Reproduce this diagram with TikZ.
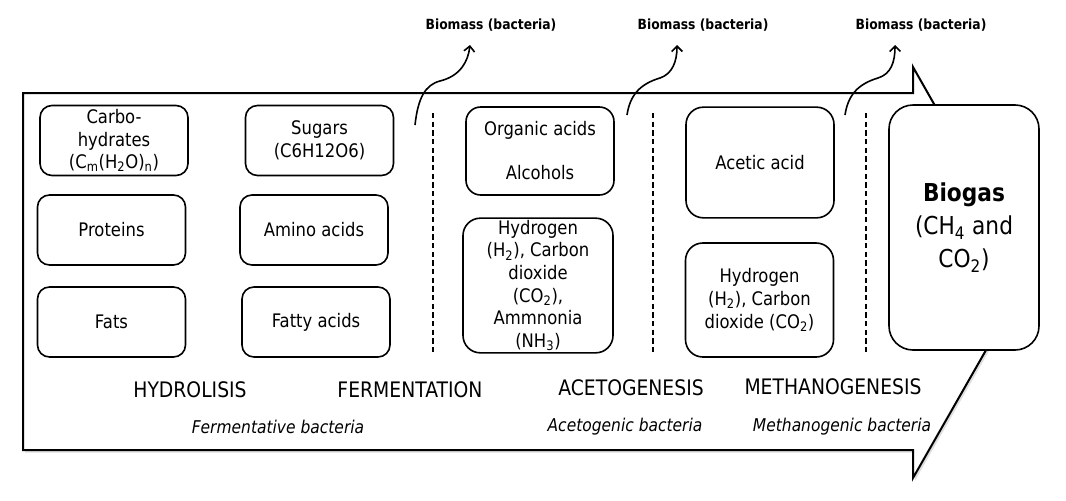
\documentclass[tikz,border=0pt]{standalone}
\usepackage{fontspec}
\setmainfont{DejaVu Sans}[FakeStretch=0.88]
\usetikzlibrary{arrows.meta,shadows}

\tikzset{
  stagebox/.style={draw, line width=1.2pt, rounded corners=9pt, fill=white, align=center,
    inner sep=0pt, minimum width=111pt, minimum height=52.5pt, font=\fontsize{14}{17}\selectfont},
  phase/.style={font=\fontsize{16}{18}\selectfont},
  microbes/.style={font=\fontsize{13.2}{15}\selectfont\itshape},
  biomass/.style={font=\fontsize{10.5}{12}\selectfont\bfseries},
  wave/.style={line width=1.2pt, -{Straight Barb[length=4pt,width=8pt]}},
  phasesep/.style={line width=1pt, dash pattern=on 4pt off 2.5pt},
}

\begin{document}
\begin{tikzpicture}[x=0.75pt, y=-0.75pt]
  \useasboundingbox (0,0) rectangle (1066,500);

  \draw[line width=1.5pt, fill=white, drop shadow={opacity=0.25, shadow xshift=1.5pt, shadow yshift=-2pt}]
    (23,93) -- (913,93) -- (913,67) -- (1030,273) -- (913,478) -- (913,450) -- (23,450) -- cycle;

  \node[stagebox] (carbs) at (114,140.5) {Carbo-\\hydrates\\(C\textsubscript{m}(H\textsubscript{2}O)\textsubscript{n})};
  \node[stagebox] (proteins) at (111.5,230) {Proteins};
  \node[stagebox] (fats) at (111.5,322) {Fats};
  \node[stagebox] (sugars) at (319.5,140.5) {Sugars\\(C6H12O6)};
  \node[stagebox] (amino) at (314,230) {Amino acids};
  \node[stagebox] (fatty) at (316,322) {Fatty acids};
  \node[stagebox, rounded corners=11pt, minimum height=66pt] (organic) at (540,151) {Organic acids\\[16pt]Alcohols};
  \node[stagebox, rounded corners=13pt, minimum width=112.5pt, minimum height=101pt] (hydro1) at (538,285.5)
    {Hydrogen\\(H\textsubscript{2}), Carbon\\dioxide\\(CO\textsubscript{2}),\\Ammnonia\\(NH\textsubscript{3})};
  \node[stagebox, rounded corners=13pt, minimum height=83pt] (acetic) at (760,162.5) {Acetic acid};
  \node[stagebox, rounded corners=13pt, minimum height=85.5pt] (hydro2) at (759.5,300)
    {Hydrogen\\(H\textsubscript{2}), Carbon\\dioxide (CO\textsubscript{2})};
  \node[stagebox, rounded corners=18pt, minimum width=112.5pt, minimum height=183.75pt,
    font=\fontsize{18.5}{25}\selectfont] (biogas) at (964,227.5)
    {\textbf{Biogas}\\(CH\textsubscript{4} and\\CO\textsubscript{2})};

  \draw[phasesep] (433,113) -- (433,355);
  \draw[phasesep] (653,113) -- (653,355);
  \draw[phasesep] (866,113) -- (866,355);

  \node[phase] (hydrolisis) at (190,390) {HYDROLISIS};
  \node[phase] (fermentation) at (410,390) {FERMENTATION};
  \node[phase] (acetogenesis) at (631,388) {ACETOGENESIS};
  \node[phase] (methanogenesis) at (833,387) {METHANOGENESIS};
  \node[microbes] (fermbact) at (278,427) {Fermentative bacteria};
  \node[microbes] (acetbact) at (625,427) {Acetogenic bacteria};
  \node[microbes] (methbact) at (842,427) {Methanogenic bacteria};

  \node[biomass] (biomass1) at (491,25) {Biomass (bacteria)};
  \node[biomass] (biomass2) at (703,25) {Biomass (bacteria)};
  \node[biomass] (biomass3) at (921,25) {Biomass (bacteria)};

  \coordinate (w1) at (415,125);
  \coordinate (t1) at (470,45);
  \coordinate (w2) at (627,115);
  \coordinate (t2) at (677,45);
  \coordinate (w3) at (845,115);
  \coordinate (t3) at (895,45);
  \draw[wave] (w1) .. controls (418,98) and (425,85) .. (440,81) .. controls (460,76) and (468,62) .. (t1);
  \draw[wave] (w2) .. controls (630,95) and (640,84) .. (660,78) .. controls (672,74) and (677,62) .. (t2);
  \draw[wave] (w3) .. controls (848,95) and (858,84) .. (878,78) .. controls (891,74) and (895,62) .. (t3);
\end{tikzpicture}
\end{document}
